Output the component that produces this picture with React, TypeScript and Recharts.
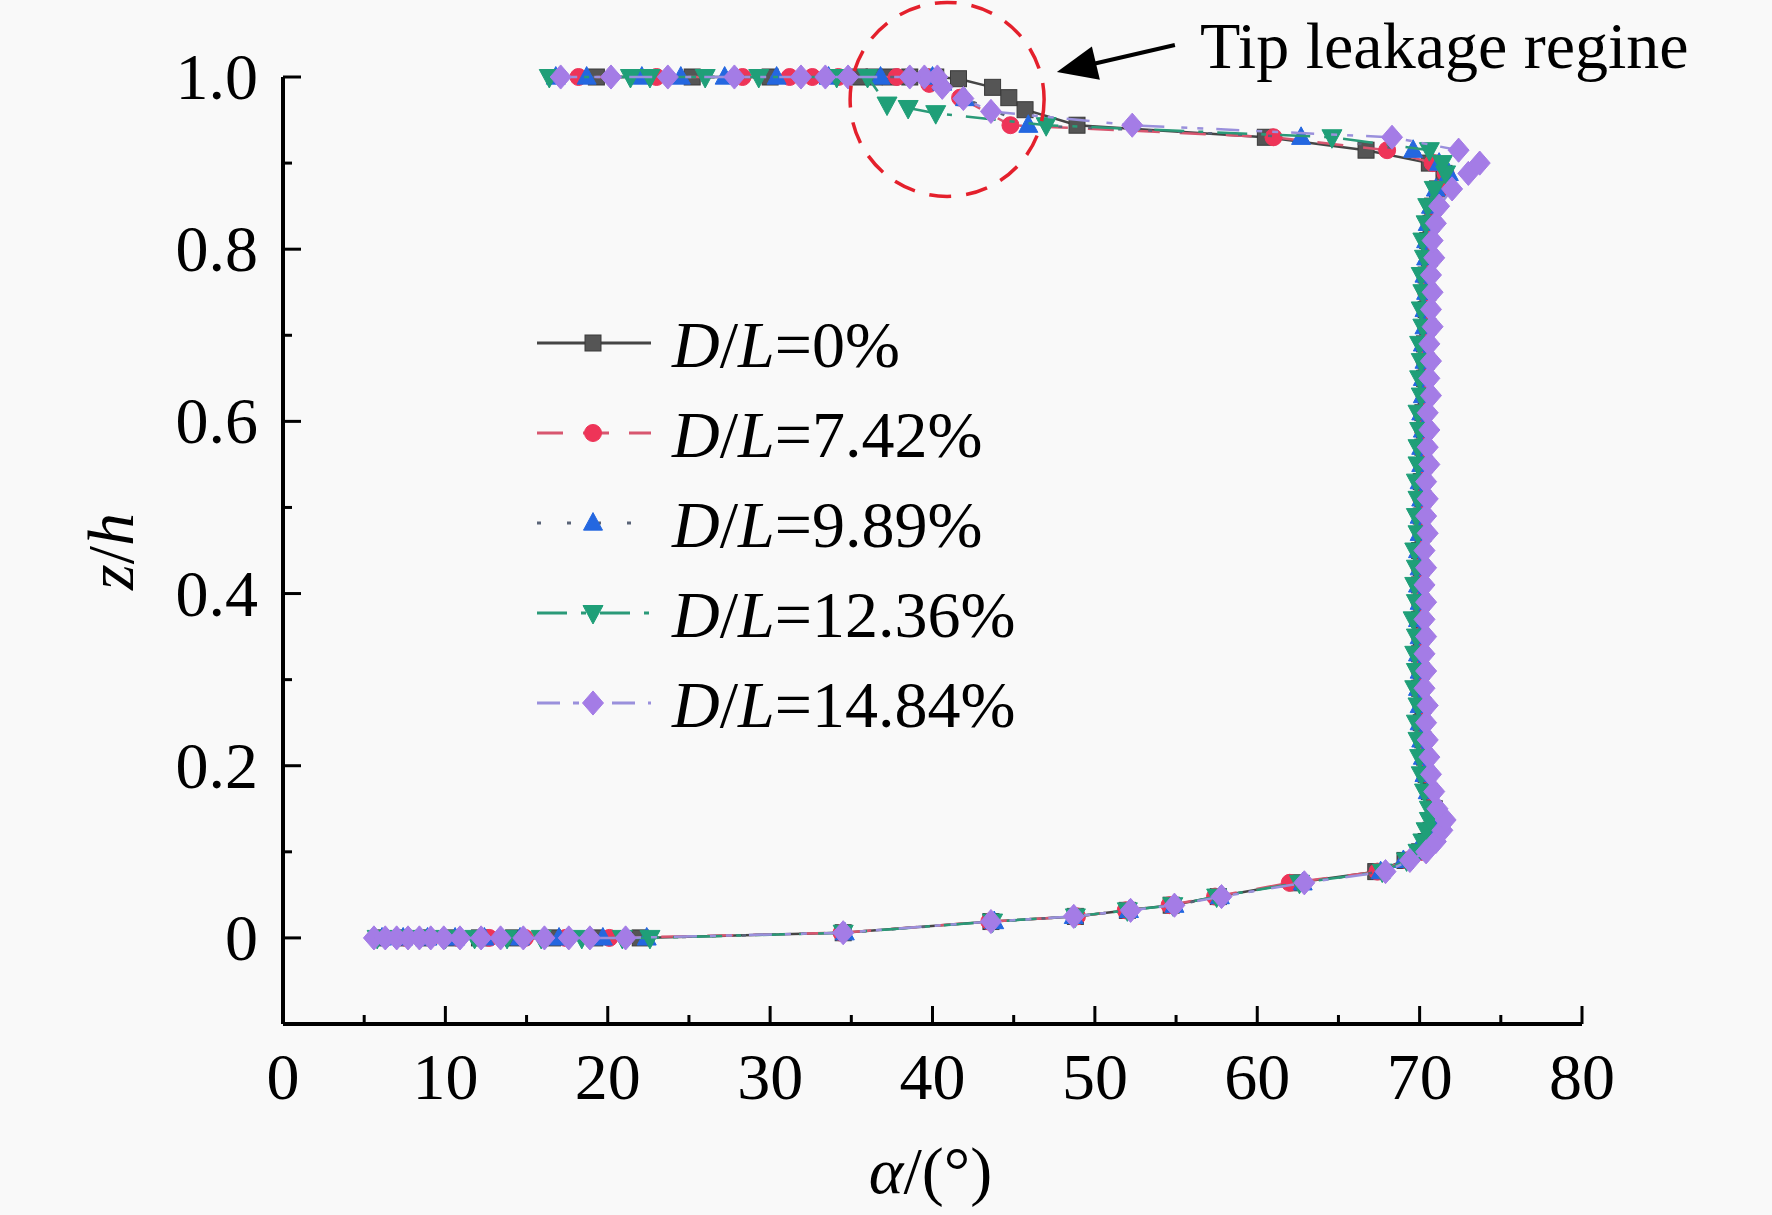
import React from 'react';
import { ScatterChart, Scatter, XAxis, YAxis, Legend, ReferenceDot } from 'recharts';

const FONT = '"Liberation Serif", "Times New Roman", serif';

// axis ticks
const X_TICKS = [0, 5, 10, 15, 20, 25, 30, 35, 40, 45, 50, 55, 60, 65, 70, 75, 80];
const Y_TICKS = [-0.1, 0, 0.1, 0.2, 0.3, 0.4, 0.5, 0.6, 0.7, 0.8, 0.9, 1.0];

// z/h stations shared by all cases (near hub, mid span, near tip)
const Z_LOW = [0.006, 0.019, 0.025, 0.032, 0.038, 0.048, 0.064, 0.077, 0.09, 0.1, 0.112, 0.125, 0.137];
const Z_MID = [
  0.15, 0.17, 0.19, 0.21, 0.23, 0.25, 0.27, 0.29, 0.31, 0.33,
  0.35, 0.37, 0.39, 0.41, 0.43, 0.45, 0.47, 0.49, 0.51, 0.53,
  0.55, 0.57, 0.59, 0.61, 0.63, 0.65, 0.67, 0.69, 0.71, 0.73,
  0.75, 0.77, 0.79, 0.81, 0.83, 0.85, 0.87,
];
const Z_UP = [0.888, 0.9, 0.915, 0.93, 0.944];

// D/L = 0%
const HUB_0 = [6.0, 7.3, 8.7, 10.3, 12.1, 14.2, 16.6, 19.2, 22.0];
const LOW_0 = [34.5, 43.6, 48.8, 52.0, 54.7, 57.6, 62.4, 67.3, 69.1, 70.0, 70.4, 70.7, 70.9];
const MID_0 = [
  70.9, 70.6, 70.4, 70.3, 70.2, 70.1, 70.2, 70.0, 70.1, 70.0,
  70.1, 70.0, 70.1, 70.0, 70.1, 70.0, 70.2, 70.1, 70.2, 70.1,
  70.3, 70.2, 70.3, 70.2, 70.4, 70.3, 70.4, 70.3, 70.5, 70.4,
  70.5, 70.4, 70.6, 70.5, 70.7, 70.8, 71.1,
];
const UP_0 = [71.5, 70.6, 66.7, 60.5, 48.9];
const TIP_0: [number, number][] = [[45.7, 0.962], [44.7, 0.976], [43.7, 0.988], [41.6, 0.998]];
const TOP_0 = [40.2, 38.6, 37.4, 36.4, 35.5, 30.0, 25.2, 19.3];

// D/L = 7.42%
const HUB_742 = [6.3, 7.6, 9.1, 10.8, 12.7, 14.9, 17.4, 20.1];
const LOW_742 = [34.4, 43.5, 48.9, 51.9, 54.6, 57.4, 62.0, 67.4, 69.2, 70.1, 70.5, 70.8, 71.0];
const MID_742 = [
  71.0, 70.7, 70.5, 70.3, 70.3, 70.2, 70.1, 70.1, 70.0, 70.1,
  70.0, 70.1, 70.0, 70.1, 70.0, 70.1, 70.1, 70.2, 70.1, 70.2,
  70.2, 70.3, 70.2, 70.3, 70.3, 70.4, 70.3, 70.4, 70.4, 70.5,
  70.4, 70.5, 70.5, 70.6, 70.6, 70.9, 71.2,
];
const UP_742 = [71.6, 70.8, 68.0, 61.0, 44.8];
const TIP_742: [number, number][] = [[41.7, 0.976], [39.8, 0.992]];
const TOP_742 = [39.6, 37.8, 34.2, 32.6, 31.2, 28.3, 23.0, 18.2];

// D/L = 9.89%
const HUB_989 = [6.1, 7.4, 8.9, 10.6, 12.4, 14.6, 17.0, 19.7, 22.4];
const LOW_989 = [34.6, 43.8, 48.7, 52.1, 54.9, 57.7, 62.8, 67.6, 69.0, 69.8, 70.3, 70.6, 70.8];
const MID_989 = [
  70.8, 70.5, 70.3, 70.2, 70.1, 70.0, 70.0, 69.9, 70.0, 69.9,
  70.0, 69.9, 70.0, 69.9, 70.0, 69.9, 70.0, 70.0, 70.1, 70.0,
  70.1, 70.1, 70.2, 70.1, 70.2, 70.2, 70.3, 70.2, 70.3, 70.3,
  70.4, 70.3, 70.4, 70.4, 70.5, 70.7, 71.0,
];
const UP_989 = [71.8, 71.2, 69.6, 62.7, 45.9];
const TIP_989: [number, number][] = [[42.0, 0.975], [40.6, 0.993]];
const TOP_989 = [40.0, 36.8, 33.6, 30.4, 27.2, 24.5, 22.1, 18.7, 16.8];

// D/L = 12.36%
const HUB_1236 = [5.8, 7.0, 8.4, 10.0, 11.8, 13.8, 15.9, 18.4, 20.9, 22.6];
const LOW_1236 = [34.5, 43.7, 48.8, 52.0, 54.8, 57.5, 62.6, 67.7, 69.2, 69.9, 70.2, 70.4, 70.6];
const MID_1236 = [
  70.6, 70.3, 70.1, 70.0, 69.9, 69.8, 69.9, 69.7, 69.8, 69.7,
  69.8, 69.6, 69.8, 69.7, 69.8, 69.7, 69.9, 69.8, 69.9, 69.8,
  69.9, 69.9, 70.0, 69.9, 70.1, 70.0, 70.1, 70.0, 70.2, 70.1,
  70.2, 70.1, 70.3, 70.2, 70.4, 70.5, 70.9,
];
const UP_1236 = [71.6, 71.4, 70.6, 64.6, 47.0];
const TIP_1236: [number, number][] = [[40.2, 0.958], [38.5, 0.964], [37.2, 0.968]];
const TOP_1236 = [36.0, 34.1, 29.3, 26.0, 22.6, 21.4, 16.4];

// D/L = 14.84%
const HUB_1484 = [5.6, 6.3, 7.0, 7.7, 8.4, 9.1, 9.9, 10.9, 12.2, 13.4, 14.8, 16.1, 17.6, 18.9, 21.1];
const LOW_1484 = [34.5, 43.6, 48.7, 52.2, 54.9, 57.8, 62.9, 67.9, 69.4, 70.4, 71.0, 71.4, 71.6];
const MID_1484 = [
  71.1, 70.9, 70.7, 70.6, 70.5, 70.4, 70.5, 70.3, 70.4, 70.3,
  70.4, 70.3, 70.4, 70.3, 70.4, 70.3, 70.5, 70.4, 70.5, 70.4,
  70.6, 70.5, 70.6, 70.5, 70.7, 70.6, 70.7, 70.6, 70.8, 70.7,
  70.8, 70.7, 70.9, 70.8, 71.0, 71.2, 72.0,
];
const UP_1484 = [73.0, 73.7, 72.4, 68.3, 52.3];
const TIP_1484: [number, number][] = [[43.6, 0.96], [41.9, 0.975], [40.6, 0.988]];
const TOP_1484 = [40.3, 39.5, 38.6, 34.8, 33.4, 31.9, 27.8, 23.7, 20.2, 17.1];

type Pt = { a: number; z: number };

const profile = (
  hub: number[], low: number[], mid: number[], up: number[],
  tip: [number, number][], top: number[],
): Pt[] => [
  ...hub.map((a) => ({ a, z: 0 })),
  ...low.map((a, i) => ({ a, z: Z_LOW[i] })),
  ...mid.map((a, i) => ({ a, z: Z_MID[i] })),
  ...up.map((a, i) => ({ a, z: Z_UP[i] })),
  ...tip.map(([a, z]) => ({ a, z })),
  ...top.map((a) => ({ a, z: 1 })),
];

const SERIES = [
  { pct: '0%', kind: 'square', fill: '#555555', line: '#454545', dash: undefined, size: 16,
    data: profile(HUB_0, LOW_0, MID_0, UP_0, TIP_0, TOP_0) },
  { pct: '7.42%', kind: 'circle', fill: '#ee3458', line: '#d8566f', dash: '26 20', size: 17,
    data: profile(HUB_742, LOW_742, MID_742, UP_742, TIP_742, TOP_742) },
  { pct: '9.89%', kind: 'up', fill: '#2467e0', line: '#5a6478', dash: '4 26', size: 19,
    data: profile(HUB_989, LOW_989, MID_989, UP_989, TIP_989, TOP_989) },
  { pct: '12.36%', kind: 'down', fill: '#1f9f78', line: '#2a9a78', dash: '30 14 5 14', size: 20,
    data: profile(HUB_1236, LOW_1236, MID_1236, UP_1236, TIP_1236, TOP_1236) },
  { pct: '14.84%', kind: 'diamond', fill: '#a47ce6', line: '#9a90dc', dash: '23 13 6 10 6 17', size: 21,
    data: profile(HUB_1484, LOW_1484, MID_1484, UP_1484, TIP_1484, TOP_1484) },
];

const drawMarker = (kind: string, fill: string, s: number, cx: number, cy: number) => {
  const h = s / 2;
  const common = { fill, stroke: fill, strokeWidth: 1 };
  if (kind === 'square') return <rect x={cx - h} y={cy - h} width={s} height={s} {...common} stroke="#3a3a3a" />;
  if (kind === 'circle') return <circle cx={cx} cy={cy} r={h} {...common} />;
  if (kind === 'up')
    return <polygon points={`${cx},${cy - h * 1.1} ${cx + h},${cy + h * 0.75} ${cx - h},${cy + h * 0.75}`} {...common} />;
  if (kind === 'down')
    return <polygon points={`${cx},${cy + h * 1.1} ${cx + h},${cy - h * 0.75} ${cx - h},${cy - h * 0.75}`} {...common} />;
  return <polygon points={`${cx},${cy - h * 1.15} ${cx + h},${cy} ${cx},${cy + h * 1.15} ${cx - h},${cy}`} {...common} />;
};

const markerShape = (kind: string, fill: string, s: number) => (p: any) => {
  if (p.cx == null || p.cy == null) return <g />;
  return drawMarker(kind, fill, s, p.cx, p.cy);
};

const XTick = (p: any) => {
  const { x, y, payload } = p;
  const v = payload.value;
  const major = v % 10 === 0;
  return (
    <g>
      <line x1={x} x2={x} y1={y} y2={y - (major ? 18 : 9)} stroke="#000" strokeWidth={3} />
      {major && (
        <text x={x} y={y + 75} textAnchor="middle" fontFamily={FONT} fontSize={66} fill="#000">
          {v}
        </text>
      )}
    </g>
  );
};

const YTick = (p: any) => {
  const { x, y, payload } = p;
  const v = payload.value;
  if (v < 0) return <g />;
  const major = Math.round(v * 10) % 2 === 0;
  return (
    <g>
      <line x1={x} x2={x + (major ? 18 : 9)} y1={y} y2={y} stroke="#000" strokeWidth={3} />
      {major && (
        <text x={x - 25} y={y + 22} textAnchor="end" fontFamily={FONT} fontSize={66} fill="#000">
          {v === 0 ? '0' : v.toFixed(1)}
        </text>
      )}
    </g>
  );
};

const XTitle = (p: any) => {
  const vb = p.viewBox;
  return (
    <text x={vb.x + vb.width / 2 - 2} y={vb.y + 169} textAnchor="middle" fontFamily={FONT} fontSize={66} fill="#000">
      <tspan fontStyle="italic">α</tspan>/(°)
    </text>
  );
};

const YTitle = (p: any) => {
  const vb = p.viewBox;
  const x = vb.x + vb.width - 150;
  const y = vb.y + vb.height / 2 + 1;
  return (
    <text x={x} y={y} transform={`rotate(-90, ${x}, ${y})`} textAnchor="middle" fontFamily={FONT} fontSize={66} fill="#000">
      <tspan fontStyle="italic">z</tspan>/<tspan fontStyle="italic">h</tspan>
    </text>
  );
};

const renderLegend = () => (
  <svg width={540} height={460} style={{ display: 'block' }}>
    {SERIES.map((s, i) => {
      const cy = 47 + 90 * i;
      return (
        <g key={s.pct}>
          <line x1={17} x2={131} y1={cy} y2={cy} stroke={s.line} strokeWidth={3} strokeDasharray={s.dash} />
          {drawMarker(s.kind, s.fill, s.size, 73, cy)}
          <text x={152} y={cy + 24} fontFamily={FONT} fontSize={66} fill="#000">
            <tspan fontStyle="italic">D</tspan>/<tspan fontStyle="italic">L</tspan>={s.pct}
          </text>
        </g>
      );
    })}
  </svg>
);

const TipCircle = (p: any) => (
  <circle cx={p.cx} cy={p.cy} r={97} fill="none" stroke="#e4202c" strokeWidth={3.5} strokeDasharray="22 15" />
);

const TipArrow = (p: any) => {
  const { cx, cy } = p;
  return (
    <g>
      <line x1={cx + 36} y1={cy - 8} x2={cx + 118} y2={cy - 27} stroke="#000" strokeWidth={4} />
      <polygon points={`${cx},${cy} ${cx + 43},${cy + 7.7} ${cx + 35},${cy - 25.5}`} fill="#000" />
      <text x={cx + 143} y={cy - 4} fontFamily={FONT} fontSize={66} fill="#000">
        Tip leakage regine
      </text>
    </g>
  );
};

export default function App() {
  return (
    <div style={{ position: 'absolute', left: 0, top: 0, width: 1772, height: 1215, background: '#f9f9f9' }}>
      <ScatterChart width={1772} height={1215} margin={{ top: 77, right: 190, bottom: 91, left: 183 }}>
        <XAxis
          type="number"
          dataKey="a"
          domain={[0, 80]}
          ticks={X_TICKS}
          interval={0}
          height={100}
          tickSize={0}
          tickMargin={0}
          tickLine={false}
          axisLine={{ stroke: '#000', strokeWidth: 4 }}
          tick={XTick}
          label={{ content: XTitle }}
        />
        <YAxis
          type="number"
          dataKey="z"
          domain={[-0.1, 1.0]}
          ticks={Y_TICKS}
          interval={0}
          width={100}
          tickSize={0}
          tickMargin={0}
          tickLine={false}
          axisLine={{ stroke: '#000', strokeWidth: 4 }}
          tick={YTick}
          label={{ content: YTitle }}
        />
        {SERIES.map((s) => (
          <Scatter
            key={s.pct}
            name={`D/L=${s.pct}`}
            data={s.data}
            fill={s.fill}
            shape={markerShape(s.kind, s.fill, s.size)}
            line={{ stroke: s.line, strokeWidth: 2.5, strokeDasharray: s.dash }}
            lineType="joint"
            isAnimationActive={false}
          />
        ))}
        <ReferenceDot x={40.9} y={0.974} ifOverflow="visible" shape={TipCircle} />
        <ReferenceDot x={47.66} y={1.0058} ifOverflow="visible" shape={TipArrow} />
        <Legend
          layout="vertical"
          align="center"
          verticalAlign="middle"
          content={renderLegend}
          wrapperStyle={{ left: 520, top: 296, width: 540, height: 460 }}
        />
      </ScatterChart>
    </div>
  );
}
